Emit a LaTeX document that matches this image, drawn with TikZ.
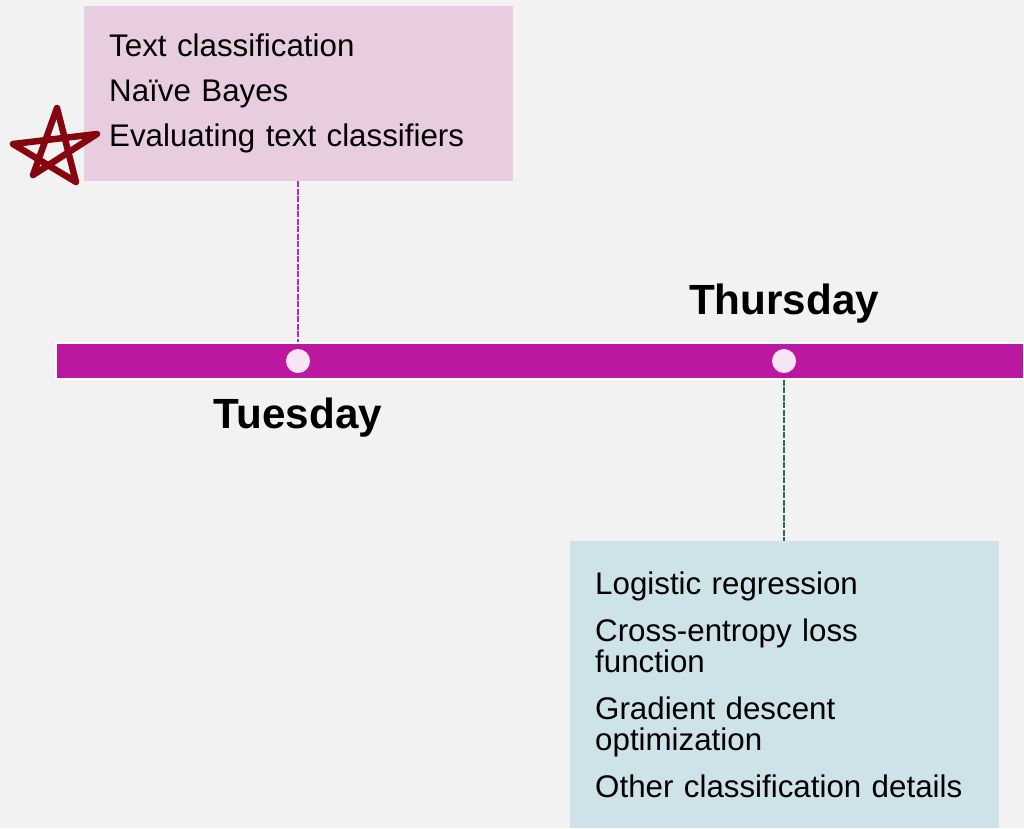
\documentclass[tikz,border=0pt]{standalone}
\usepackage{fontspec}
\setmainfont{Liberation Sans}
\usepackage{tikz}
\usetikzlibrary{positioning}
\definecolor{pagebg}{HTML}{F2F2F2}
\definecolor{barpink}{HTML}{BC17A0}
\definecolor{dotpink}{HTML}{F7E4F4}
\definecolor{topfill}{HTML}{E8CDE0}
\definecolor{botfill}{HTML}{CDE3E9}
\definecolor{toplink}{HTML}{C424B2}
\definecolor{botlink}{HTML}{2F6B4F}
\definecolor{starred}{HTML}{860610}
\tikzset{
    topicbox/.style = {
        rectangle,
        align=left,
        text width=379pt,
        inner xsep=25pt,
        inner ysep=0pt,
        minimum width=429pt,
        font=\fontsize{31.3}{31.5}\selectfont
    },
    timebar/.style = {
        rectangle,
        fill=barpink,
        draw=white,
        line width=1.5pt,
        minimum width=968pt,
        minimum height=36pt,
        inner sep=0pt
    },
    daydot/.style = {
        circle,
        fill=dotpink,
        minimum size=24pt,
        inner sep=0pt
    },
    daylabel/.style = {
        font=\fontsize{42.2}{42}\selectfont\bfseries,
        inner sep=0pt
    },
    linkline/.style = {
        line width=2pt,
        dash pattern=on 6pt off 1.5pt
    },
    starline/.style = {
        line cap=round,
        line join=round
    }
}
\begin{document}
\begin{tikzpicture}[x=1pt,y=-1pt]
    \useasboundingbox (0,0) rectangle (1024,828);
    \fill[pagebg] (0,0) rectangle (1024,828);

    \node [timebar] (bar) at (540,361) {};
    \node [daydot] (tue) at (298,361) {};
    \node [daydot] (thu) at (784,361) {};
    \node [daylabel] (tuelbl) at (298,418) {Tuesday};
    \node [daylabel] (thulbl) at (784,304) {Thursday};

    \node [topicbox, fill=topfill, minimum height=175pt, anchor=north west] (tuebox) at (84,6)
        {Text classification\\[13.5pt]
         Naïve Bayes\\[13.5pt]
         Evaluating text classifiers};
    \node [topicbox, fill=botfill, minimum height=287pt, anchor=north west] (thubox) at (570,541)
        {Logistic regression\\[15pt]
         Cross-entropy loss\\function\\[15pt]
         Gradient descent\\optimization\\[15pt]
         Other classification details};

    \draw [linkline, toplink] (tuebox.south -| tue) -- (tue |- bar.north);
    \draw [linkline, botlink] (thu |- bar.south) -- (thubox.north -| thu);

    % hand drawn star
    \draw [starline, starred, line width=6.5pt]
        (33,175) -- (57,108) -- (76,182) -- (13,144) -- (97,134) -- cycle;
\end{tikzpicture}
\end{document}
